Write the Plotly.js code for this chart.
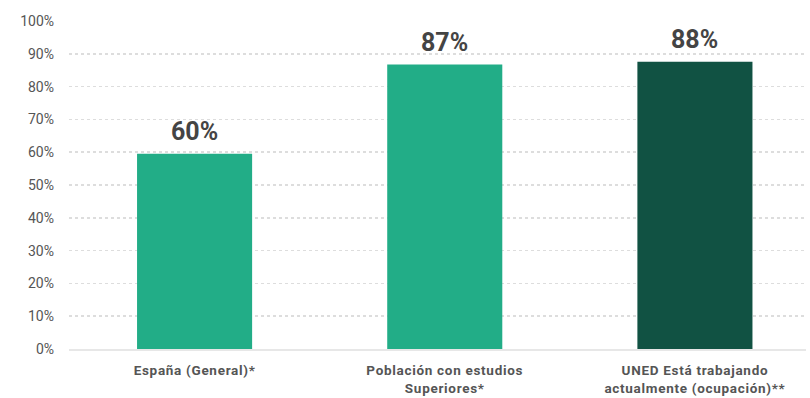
<!DOCTYPE html>
<html><head><meta charset="utf-8">
<script src="https://cdn.plot.ly/plotly-3.0.1.min.js"></script>
<style>html,body{margin:0;padding:0;background:#fff}#chart{width:810px;height:398px}
#chart .xtick text{letter-spacing:0.7px}</style>
</head><body><div id="chart"></div>
<script>
const categories = ["España (General)*", "Población con estudios<br>Superiores*", "UNED Está trabajando<br>actualmente (ocupación)**"];
const values = [59.5, 86.7, 87.6];
const labels = ["60%", "87%", "88%"];
const colors = ["#22ad87", "#22ad87", "#115243"];
const yTicks = [0,10,20,30,40,50,60,70,80,90,100];
const yTickText = yTicks.map(v => v + "%");

const annotations = values.map((v, i) => ({
  x: i, y: v, xref: "x", yref: "y", text: labels[i], showarrow: false,
  yanchor: "bottom", yshift: 6,
  font: {family: "Roboto, sans-serif", size: 25, color: "#444", weight: "bold"}
}));

Plotly.newPlot("chart", [{
  type: "bar", x: [0,1,2], y: values,
  marker: {color: colors, line: {width: 0}},
  width: 0.46, hoverinfo: "none"
}], {
  width: 810, height: 398,
  margin: {l: 69, r: 4, t: 21, b: 49},
  paper_bgcolor: "#fff", plot_bgcolor: "#fff",
  showlegend: false,
  font: {family: "Roboto, sans-serif", color: "#555"},
  annotations: annotations,
  xaxis: {range: [-0.502, 2.444], tickvals: [0,1,2], ticktext: categories,
    tickfont: {family: "Roboto, sans-serif", size: 13.5, color: "#555", weight: "bold"},
    showgrid: false, zeroline: false, ticks: "", ticklabelstandoff: 8,
    showline: true, linecolor: "rgba(215,215,215,0.6)", linewidth: 2, layer: "above traces"},
  yaxis: {range: [0, 100], tickvals: yTicks, ticktext: yTickText,
    tickfont: {family: "Roboto, sans-serif", size: 14, color: "#555"},
    showgrid: true, gridcolor: "#dddddd", griddash: "dot", gridwidth: 1.5,
    zeroline: false, ticks: "", ticklabelstandoff: 14, showline: false}
}, {displayModeBar: false, staticPlot: true});
</script></body></html>
